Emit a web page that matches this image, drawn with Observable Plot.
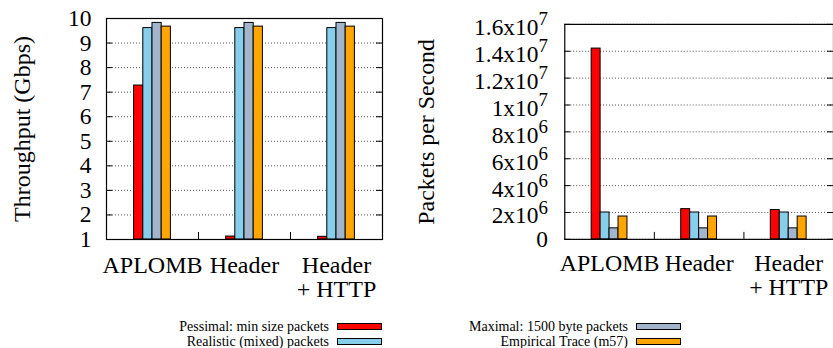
<!DOCTYPE html>
<html><head><meta charset="utf-8">
<script src="https://cdn.jsdelivr.net/npm/d3@7"></script>
<script src="https://cdn.jsdelivr.net/npm/@observablehq/plot@0.6"></script>
<style>
html,body{margin:0;padding:0;background:#fff;overflow:hidden}
#wrap{position:relative;width:833px;height:348px;overflow:hidden;font-family:"Liberation Serif","Times New Roman",Times,serif;background:#fff}
#left{position:absolute;left:0;top:0}
#right{position:absolute;left:410px;top:0}
.leg{position:absolute;font-size:14px;line-height:13px;height:13px;white-space:nowrap;display:flex;align-items:center;justify-content:flex-end;color:#000}
.leg .t{display:inline-block;height:13px;line-height:13px;overflow:visible}
.sw{display:inline-block;width:43px;height:5px;border:1px solid #000;margin-left:8px}
</style></head>
<body><div id="wrap"><div id="left"></div><div id="right"></div><div id="legend"></div></div>
<script>
// ---- data ----
const categories = ["APLOMB", "Header", "Header\n+ HTTP"];
const seriesNames = ["Pessimal: min size packets", "Realistic (mixed) packets", "Maximal: 1500 byte packets", "Empirical Trace (m57)"];
const seriesColors = ["#ff0000", "#87ceeb", "#a3b5cc", "#ffa500"];

const throughputPessimal = [7.27, 1.12, 1.11];
const throughputRealistic = [9.61, 9.61, 9.61];
const throughputMaximal = [9.82, 9.82, 9.82];
const throughputEmpirical = [9.67, 9.67, 9.67];

const ppsPessimal = [14.2e6, 2.25e6, 2.18e6];
const ppsRealistic = [2.0e6, 2.0e6, 2.0e6];
const ppsMaximal = [0.82e6, 0.82e6, 0.82e6];
const ppsEmpirical = [1.70e6, 1.70e6, 1.70e6];

const throughputTicks = [1, 2, 3, 4, 5, 6, 7, 8, 9, 10];
const ppsTicks = [0, 2e6, 4e6, 6e6, 8e6, 10e6, 12e6, 14e6, 16e6];
const ppsTickLabels = ["0", "2x10^6", "4x10^6", "6x10^6", "8x10^6", "1x10^7", "1.2x10^7", "1.4x10^7", "1.6x10^7"];

const FONT = "'Liberation Serif', 'Times New Roman', Times, serif";

// ---- helpers ----
const barWidth = 0.1; // in group units
function rowsOf(seriesArrays) {
  const rows = [];
  seriesArrays.forEach((arr, s) => arr.forEach((v, g) => rows.push({g, s, name: seriesNames[s], v})));
  return rows;
}

function panel(opts) {
  const {seriesArrays, yDomain, yTicks, yFormat, label, width, height, marginLeft, marginRight, marginTop, marginBottom, baseline, yPad, xPad, labelDx} = opts;
  const fw = width - marginLeft - marginRight;
  const fh = height - marginTop - marginBottom;
  const rows = rowsOf(seriesArrays);
  const seps = d3.range(1, categories.length).map(i => i - 0.5);
  return Plot.plot({
    width, height, marginLeft, marginRight, marginTop, marginBottom,
    style: {fontFamily: FONT, fontSize: "24px", background: "white", color: "black", overflow: "visible"},
    x: {domain: [-0.5, categories.length - 0.5]},
    y: {domain: yDomain},
    color: {domain: seriesNames, range: seriesColors},
    marks: [
      Plot.ruleY(yTicks, {stroke: "#555", strokeDasharray: "1,2", strokeWidth: 1}),
      Plot.ruleY(yTicks, {stroke: "#000", insetRight: fw - 6}),
      Plot.ruleY(yTicks, {stroke: "#000", insetLeft: fw - 6}),
      Plot.rectY(rows, {
        x1: d => d.g + (d.s - 2) * barWidth,
        x2: d => d.g + (d.s - 1) * barWidth,
        y1: baseline, y2: "v",
        fill: "name", stroke: "#000", strokeWidth: 1
      }),
      Plot.ruleX(seps, {stroke: "#000", insetTop: fh - 7}),
      Plot.frame({stroke: "#000", strokeWidth: 1.2}),
      Plot.axisX({ticks: d3.range(categories.length), tickFormat: i => categories[i], tickSize: 0, tickPadding: xPad, label: null, fontSize: 24, fontFamily: FONT}),
      Plot.axisY({ticks: yTicks, tickFormat: yFormat, tickSize: 0, tickPadding: yPad, label: null, fontSize: 23.5, fontFamily: FONT}),
      Plot.text([label], {frameAnchor: "left", textAnchor: "middle", lineAnchor: "middle", rotate: -90, dx: labelDx, fontSize: 24, fontFamily: FONT})
    ]
  });
}

const left = panel({
  seriesArrays: [throughputPessimal, throughputRealistic, throughputMaximal, throughputEmpirical],
  yDomain: [1, 10], yTicks: throughputTicks, yFormat: d => String(d),
  label: "Throughput (Gbps)",
  width: 410, height: 300, marginLeft: 106, marginRight: 28, marginTop: 18, marginBottom: 61,
  baseline: 1, yPad: 15, xPad: 16, labelDx: -84
});
document.getElementById("left").appendChild(left);

const right = panel({
  seriesArrays: [ppsPessimal, ppsRealistic, ppsMaximal, ppsEmpirical],
  yDomain: [0, 16e6], yTicks: ppsTicks, yFormat: d => ppsTickLabels[ppsTicks.indexOf(d)],
  label: "Packets per Second",
  width: 425, height: 300, marginLeft: 155, marginRight: 0, marginTop: 24, marginBottom: 60,
  baseline: 0, yPad: 17, xPad: 15, labelDx: -139
});
document.getElementById("right").appendChild(right);

// superscripts for the exponent labels
right.querySelectorAll('g[aria-label="y-axis tick label"] text').forEach(t => {
  const s = t.textContent;
  if (!s.includes("^")) return;
  const [base, exp] = s.split("^");
  t.textContent = "";
  const ns = "http://www.w3.org/2000/svg";
  const b = document.createElementNS(ns, "tspan");
  b.setAttribute("dy", "3.5px");
  b.textContent = base;
  const e = document.createElementNS(ns, "tspan");
  e.setAttribute("dy", "-10px");
  e.setAttribute("font-size", "19px");
  e.textContent = exp;
  t.appendChild(b); t.appendChild(e);
});

// legend
const legend = document.getElementById("legend");
const legendPos = [
  {right: 451, top: 320}, {right: 451, top: 335},
  {right: 152, top: 320}, {right: 152, top: 335}
];
[0, 1, 2, 3].forEach((s, i) => {
  const div = document.createElement("div");
  div.className = "leg";
  div.style.right = legendPos[i].right + "px";
  div.style.top = legendPos[i].top + "px";
  const span = document.createElement("span");
  span.className = "t";
  span.textContent = seriesNames[s];
  const sw = document.createElement("span");
  sw.className = "sw";
  sw.style.background = seriesColors[s];
  div.appendChild(span); div.appendChild(sw);
  legend.appendChild(div);
});
</script>
</body></html>
